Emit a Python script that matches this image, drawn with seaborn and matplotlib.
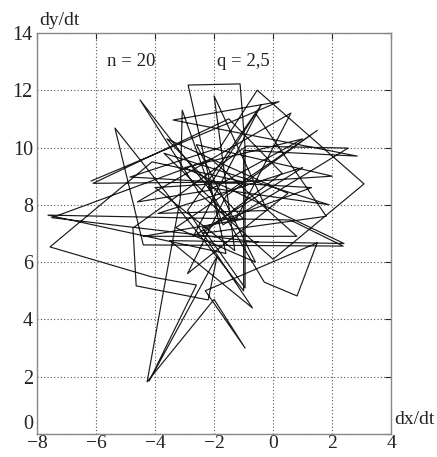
import numpy as np
import pandas as pd
import matplotlib
matplotlib.use("Agg")
import matplotlib.pyplot as plt
import seaborn as sns

# trajectory vertices (dx/dt, dy/dt)
dxdt = [-6.17, 0.2, -3.39, 2.85, -1.0, -1.0, -5.36, -4.4, 2.37, 0.58,
        -7.63, -1.6, -2.88, -1.12, -0.95, -0.95, -2.4, 1.3, -4.85, -1.8,
        -0.54, 3.08, 0.0, -2.5, -4.51, -2.2, -0.3, 0.81, 1.49, -2.3,
        -0.95, -2.0, -4.27, -3.15, -3.08, -1.7, 2.54, -0.9, -4.75, -4.64,
        -2.2, -1.9, -4.2, -2.6, -4.1, -7.56, -4.1, -1.0, -6.1, -1.5,
        0.3, -2.4, 1.8, -0.6, -2.9, -0.7, -3.5, 2.4, -3.0, 1.0,
        -2.2, -4.6, 0.6, -1.3, -3.7, 1.9, -2.2, -0.4, -2.7, 1.0,
        -3.9, -0.2, -2.0, -1.3, -4.0, 2.0, -2.6, -0.6, -3.3, 1.5,
        -1.6, -2.9, 0.5, -3.6, -1.0, -4.4, 0.8, -2.1, -7.5, -0.5]
dydt = [8.83, 11.6, 10.96, 9.7, 9.9, 5.0, 10.68, 6.6, 6.56, 7.47,
        7.64, 6.3, 12.18, 12.22, 10.0, 5.1, 7.2, 8.6, 8.97, 10.0,
        12.0, 8.73, 6.1, 8.4, 11.66, 8.6, 5.3, 4.82, 6.67, 5.0,
        3.0, 4.7, 1.82, 8.2, 11.3, 7.3, 9.98, 10.05, 7.19, 5.17,
        4.68, 6.2, 1.85, 5.2, 5.48, 6.53, 9.5, 8.8, 8.75, 11.0,
        9.1, 7.0, 7.6, 11.2, 7.8, 4.4, 6.75, 6.65, 9.3, 10.3,
        8.5, 8.1, 11.2, 7.4, 9.8, 8.0, 8.6, 11.5, 6.9, 9.3,
        7.7, 7.8, 11.8, 6.4, 8.6, 9.0, 10.1, 6.0, 7.2, 10.6,
        8.3, 5.6, 8.4, 10.3, 7.5, 6.9, 6.9, 9.6, 7.55, 6.7]

x_ticks = [-8, -6, -4, -2, 0, 2, 4]
y_ticks = [0, 2, 4, 6, 8, 10, 12, 14]
annotations = ["n = 20", "q = 2,5"]

sns.set_style("white")
plt.rcParams["font.family"] = ["Liberation Serif", "DejaVu Serif"]

df = pd.DataFrame({"step": range(len(dxdt)), "dxdt": dxdt, "dydt": dydt})

fig = plt.figure(figsize=(4.37, 4.57), dpi=100)
ax = fig.add_axes([0.0847, 0.0503, 0.8105, 0.8777])

sns.lineplot(data=df, x="dxdt", y="dydt", sort=False, estimator=None,
             color="#1a1a1a", linewidth=0.85, ax=ax)

ax.set_xlim(-8, 4)
ax.set_ylim(0, 14)
ax.set_xticks(x_ticks)
ax.set_yticks(y_ticks)
ax.set_xticklabels(["\u2212" + str(-t) if t < 0 else str(t) for t in x_ticks])
ax.set_yticklabels([str(t) for t in y_ticks])
ax.tick_params(axis="x", direction="in", length=4, labelsize=14, pad=1,
               top=True)
ax.tick_params(axis="y", direction="in", length=4, labelsize=14.5, pad=3,
               right=True)
for lab in ax.get_xticklabels() + ax.get_yticklabels():
    lab.set_color("#222222")
for lab in ax.get_yticklabels()[:1]:
    lab.set_verticalalignment("bottom")
ax.grid(True, linestyle=(0, (1, 2)), color="#555555", linewidth=0.8)
for s in ax.spines.values():
    s.set_color("#888888")
    s.set_linewidth(1.0)
ax.set_xlabel("")
ax.set_ylabel("")

ax.text(0.005, 1.01, "dy/dt", transform=ax.transAxes, fontsize=14,
        ha="left", va="bottom", color="#222222")
ax.text(1.01, 0.015, "dx/dt", transform=ax.transAxes, fontsize=14,
        ha="left", va="bottom", color="#222222")
ax.text(-4.8, 13.0, annotations[0], fontsize=13.5, ha="center", va="center", color="#222222")
ax.text(-1.0, 13.0, annotations[1], fontsize=13.5, ha="center", va="center", color="#222222")

fig.savefig("out.png", dpi=100)
